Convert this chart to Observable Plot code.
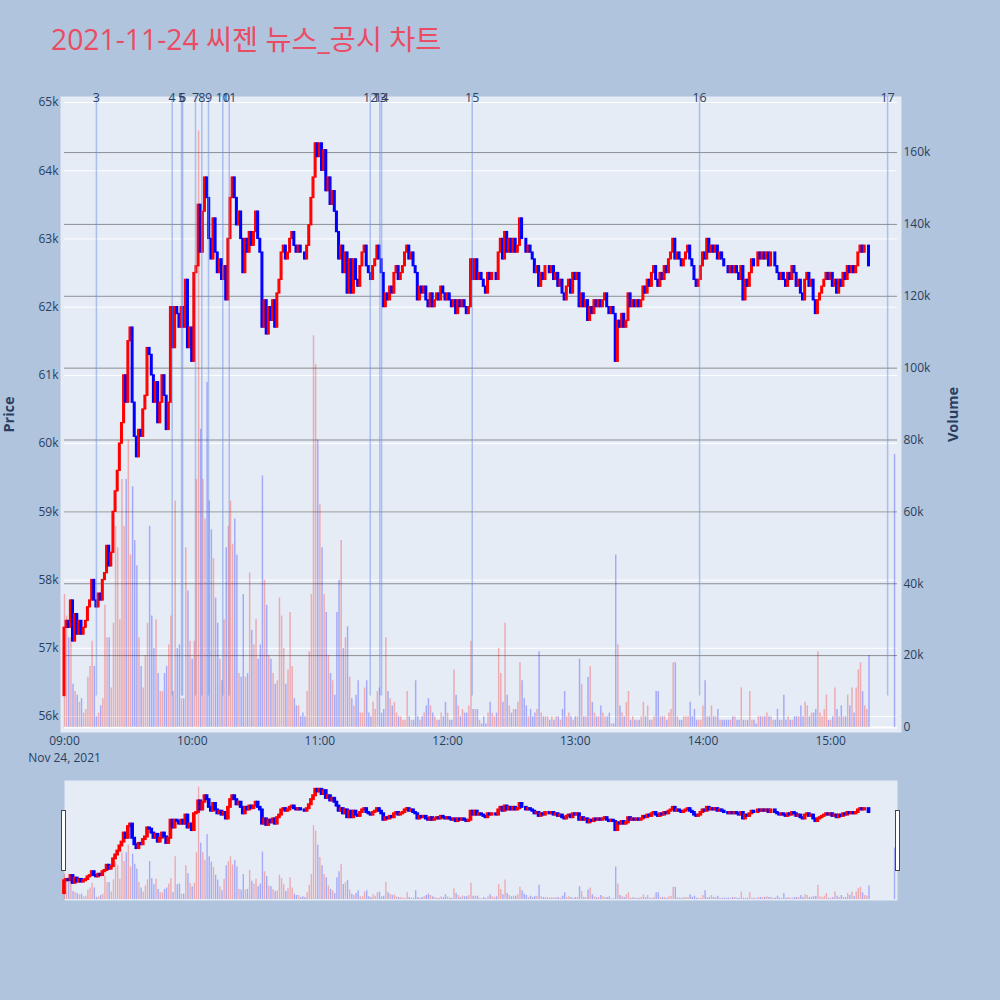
<!DOCTYPE html>
<html><head><meta charset="utf-8">
<script src="https://cdn.jsdelivr.net/npm/d3@7"></script>
<script src="https://cdn.jsdelivr.net/npm/@observablehq/plot@0.6"></script>
<style>
html,body{margin:0;padding:0;background:#b0c4de;}
#root{position:relative;width:1000px;height:1000px;background:#b0c4de;overflow:hidden;font-family:"Open Sans","Noto Sans CJK KR",sans-serif;}
.layer{position:absolute;left:0;}
.layer svg{overflow:visible;}
#title{position:absolute;left:51px;top:25px;font-size:28.3px;line-height:28px;color:#ea4c64;white-space:nowrap;font-family:"Open Sans","Noto Sans CJK KR",sans-serif;}
.handle{position:absolute;width:3px;height:59px;top:810px;background:#fff;border:1px solid #444;}
</style></head>
<body><div id="root"><div id="title">2021-11-24 씨젠 뉴스_공시 차트</div></div>
<script>
// ---- data (prices in hundreds of won, volumes in thousands of shares), one value per minute from 09:00 ----
const firstOpen = 563;
const closes = [
573,574,573,577,571,575,572,574,572,573,
574,576,577,580,577,576,578,577,580,581,
585,582,584,590,593,596,600,603,610,606,
615,617,606,601,598,602,601,605,607,614,
613,610,606,609,603,606,610,607,602,606,
620,614,620,619,617,620,617,624,614,617,
612,625,626,635,628,634,639,636,630,627,
633,628,625,627,624,626,621,630,636,639,
636,632,634,630,625,630,628,631,629,631,
634,630,628,617,621,616,620,618,621,617,
622,624,628,629,627,628,630,631,629,628,
629,628,628,627,629,632,636,639,644,642,
644,640,643,637,639,635,637,634,631,627,
629,625,628,622,627,622,627,624,623,626,
628,629,626,625,624,626,627,629,627,625,
620,622,621,623,622,625,626,624,625,626,
628,629,627,628,626,625,621,623,622,623,
621,620,622,620,621,622,621,623,622,621,
622,621,620,621,619,621,620,621,620,619,
620,627,624,627,624,625,624,623,622,625,
624,625,625,624,628,630,627,631,628,630,
628,630,628,629,633,630,630,628,629,628,
627,625,626,623,625,624,626,626,625,626,
624,625,623,624,622,621,623,624,622,625,
624,625,620,622,620,621,618,620,619,621,
620,621,620,621,622,620,619,620,619,612,
618,617,619,617,618,622,620,621,620,621,
620,621,623,622,624,623,625,626,624,623,
625,624,626,625,627,628,630,627,628,627,
626,627,628,629,627,626,624,623,624,626,
628,627,630,628,629,628,629,627,628,627,
626,626,625,626,625,626,625,624,626,621,
624,623,625,627,626,626,628,627,628,627,
628,626,628,628,626,625,624,625,624,623,
625,624,626,625,623,624,622,621,624,625,
623,624,621,619,621,622,623,624,625,624,
625,623,624,622,624,623,625,624,626,625,
626,625,626,628,629,628,629,629,626
];
const volumes = [
37,31,25,25,12,10,9,7,8,4,
5,14,17,24,17,3,4,6,8,34,
25,25,11,29,56,50,30,69,56,69,
80,48,67,52,45,25,17,11,20,29,
56,31,22,30,15,10,10,15,17,23,
31,10,63,22,23,8,8,50,38,24,
19,24,69,166,83,69,58,96,63,55,
47,36,29,19,13,30,50,56,63,51,
58,48,15,14,37,14,15,43,27,23,
30,19,23,70,41,34,20,19,15,12,
13,36,31,22,12,16,32,17,8,6,
6,3,4,3,10,21,37,109,101,80,
62,50,37,32,20,15,13,9,32,41,
52,22,25,28,14,8,6,9,13,4,
4,11,13,4,3,7,5,10,11,4,
5,25,10,8,6,7,4,3,3,2,
2,10,3,2,2,13,3,2,3,4,
6,8,6,4,3,2,2,4,3,7,
4,2,2,16,9,6,3,5,4,4,
6,24,5,5,5,2,1,3,1,4,
7,4,3,4,22,15,7,29,9,6,
4,5,5,7,18,13,8,6,3,5,
3,4,5,21,4,3,3,3,2,3,
2,3,3,2,5,10,3,4,3,2,
3,3,19,12,3,3,14,17,7,4,
3,3,6,4,3,3,4,1,1,48,
23,6,4,3,7,10,2,3,2,2,
2,3,7,3,6,2,2,3,10,10,
3,3,3,2,4,5,18,18,3,2,
2,3,3,3,7,3,5,2,2,2,
6,13,3,3,6,3,3,5,2,2,
2,2,2,2,3,3,2,2,11,2,
2,2,10,2,2,1,3,3,3,3,
4,3,3,2,2,5,2,2,9,2,
3,2,2,3,3,3,6,3,7,6,
3,4,4,5,21,4,3,5,9,2,
2,3,11,5,3,6,3,3,9,6,
11,4,11,16,18,10,6,5,20
];
const auctionTime = "15:30:00";
const auctionClose = 626;
const auctionVolume = 76;
const newsLabels = ["3","4","5","6","7","8","9","10","11","12","13","14","15","16","17"];
const newsTimes = ["09:15:00","09:50:36","09:55:00","09:55:30","10:01:33","10:04:31","10:07:40","10:14:23","10:17:24","11:23:40","11:28:10","11:29:00","12:11:35","13:58:24","15:26:45"];
const priceTicks = [56000,57000,58000,59000,60000,61000,62000,63000,64000,65000];
const volumeTicks = [0,20000,40000,60000,80000,100000,120000,140000,160000];
const hourTicks = ["09:00","10:00","11:00","12:00","13:00","14:00","15:00"];
const dateLabel = "Nov 24, 2021";

// ---- build table ----
const tAt = s => { const [h,mi,se] = s.split(":").map(Number); return new Date(Date.UTC(2021,10,24,h,mi,se||0)); };
const T0 = Date.UTC(2021,10,24,9,0,0);
const atMin = m => new Date(T0 + m*60000);
const auctionMin = (tAt(auctionTime) - T0)/60000;
const seq = closes.map((c,i)=>({m:i,c,v:volumes[i]})).concat([{m:auctionMin,c:auctionClose,v:auctionVolume}]);
const rows = [];
let prevDir = "up";
seq.forEach((d,i)=>{
  const o = i===0 ? firstOpen : seq[i-1].c;
  const dir = d.c>o ? "up" : d.c<o ? "down" : prevDir;
  prevDir = dir;
  rows.push({t:atMin(d.m), m:d.m, o:o*100, c:d.c*100, lo:Math.min(o,d.c)*100, hi:Math.max(o,d.c)*100, v:d.v*1000,
    col: dir==="up" ? "#ff0000" : "#0000ff"});
});
const news = newsLabels.map((l,i)=>({label:l, t:tAt(newsTimes[i])}));

const xDomain = [atMin(0), atMin(391.4)];
const priceDomain = [55765, 65088];
const volDomain = [-1400, 175600];
const font = '"Open Sans","Noto Sans CJK KR",sans-serif';
const W = 1000, H = 770;
const baseDims = {width:W, height:H, marginLeft:60, marginRight:99, marginTop:96, marginBottom:H-732};
const xScale = {type:"utc", domain:xDomain, range:[64,897]};
const styleBase = {background:"transparent", fontFamily:font, fontSize:"12px", color:"#2a3f5f", overflow:"visible"};
const root = document.getElementById("root");
function addLayer(svg, top){ const d=document.createElement("div"); d.className="layer"; d.style.top=top+"px"; d.appendChild(svg); root.appendChild(d); }
const hourDates = hourTicks.map(tAt);
const gx1 = () => xDomain[0], gx2 = () => xDomain[1];

// Layer 1: background, price grid, axes
addLayer(Plot.plot({
  ...baseDims, style:styleBase,
  x:{...xScale, ticks:hourDates, tickFormat:d3.utcFormat("%H:%M"), tickSize:0, tickPadding:4, label:null},
  y:{domain:priceDomain, range:[732,96], ticks:priceTicks, tickFormat:d=>(d/1000)+"k", tickSize:0, tickPadding:2, label:null},
  marks:[
    Plot.frame({fill:"#e5ecf6", stroke:null}),
    Plot.ruleY(priceTicks, {y:d=>d, x1:gx1, x2:gx2, stroke:"#ffffff", strokeWidth:1}),
    Plot.text([dateLabel], {text:d=>d, x:()=>hourDates[0], frameAnchor:"bottom", lineAnchor:"middle", dy:26, fontSize:12, fill:"#2a3f5f"}),
    Plot.text(["Price"], {text:d=>d, frameAnchor:"left", textAnchor:"middle", lineAnchor:"middle", dx:-51, rotate:-90, fontSize:14.5, fontWeight:"bold", fill:"#2a3f5f"})
  ]
}), 0);

// Layer 2: volume grid, bars, right axis
addLayer(Plot.plot({
  ...baseDims, style:styleBase,
  x:{...xScale, axis:null},
  y:{domain:volDomain, range:[732,96], axis:"right", ticks:volumeTicks, tickFormat:d=>d===0?"0":(d/1000)+"k", tickSize:0, tickPadding:2, label:null},
  marks:[
    Plot.ruleY(volumeTicks.filter(v=>v>0), {y:d=>d, x1:gx1, x2:gx2, stroke:"#444444", strokeOpacity:0.55, strokeWidth:1}),
    Plot.ruleY([0], {y:d=>d, x1:gx1, x2:gx2, stroke:"#ffffff", strokeWidth:2}),
    Plot.ruleX(rows, {x:"t", y1:0, y2:"v", stroke:"col", strokeOpacity:0.28, strokeWidth:1.5}),
    Plot.text(["Volume"], {text:d=>d, frameAnchor:"right", textAnchor:"middle", lineAnchor:"middle", dx:52, rotate:-90, fontSize:14.5, fontWeight:"bold", fill:"#2a3f5f"})
  ]
}), 0);

// Layer 3: candles, news lines and labels
addLayer(Plot.plot({
  ...baseDims, style:styleBase,
  x:{...xScale, axis:null},
  y:{domain:priceDomain, range:[732,96], axis:null},
  marks:[
    Plot.rect(rows, {x1:d=>atMin(d.m-0.4), x2:d=>atMin(d.m+0.4), y1:"lo", y2:"hi", fill:"col", stroke:"col", strokeWidth:1.3}),
    Plot.ruleX(news, {x:"t", y1:56300, y2:priceDomain[1], stroke:"#6f8fe8", strokeOpacity:0.5, strokeWidth:1.5}),
    Plot.text(news, {x:"t", y:()=>priceDomain[1], text:"label", lineAnchor:"middle", dy:1, fontSize:12.5, fill:"#2a3f5f"})
  ]
}), 0);

// Range slider: volume layer then candles
const sDims = {width:W, height:140, marginLeft:64, marginRight:103, marginTop:10, marginBottom:10};
addLayer(Plot.plot({
  ...sDims, style:styleBase,
  x:{type:"utc", domain:xDomain, axis:null},
  y:{domain:volDomain, axis:null},
  marks:[
    Plot.frame({fill:"#e5ecf6", stroke:null}),
    Plot.ruleX(rows, {x:"t", y1:0, y2:"v", stroke:"col", strokeOpacity:0.28, strokeWidth:1.4})
  ]
}), 770);
addLayer(Plot.plot({
  ...sDims, style:styleBase,
  x:{type:"utc", domain:xDomain, axis:null},
  y:{domain:priceDomain, axis:null},
  marks:[
    Plot.rect(rows, {x1:d=>atMin(d.m-0.4), x2:d=>atMin(d.m+0.4), y1:"lo", y2:"hi", fill:"col", stroke:"col", strokeWidth:2})
  ]
}), 770);

// slider handles
[61, 895].forEach(x=>{ const h=document.createElement("div"); h.className="handle"; h.style.left=x+"px"; root.appendChild(h); });
</script>
</body></html>
